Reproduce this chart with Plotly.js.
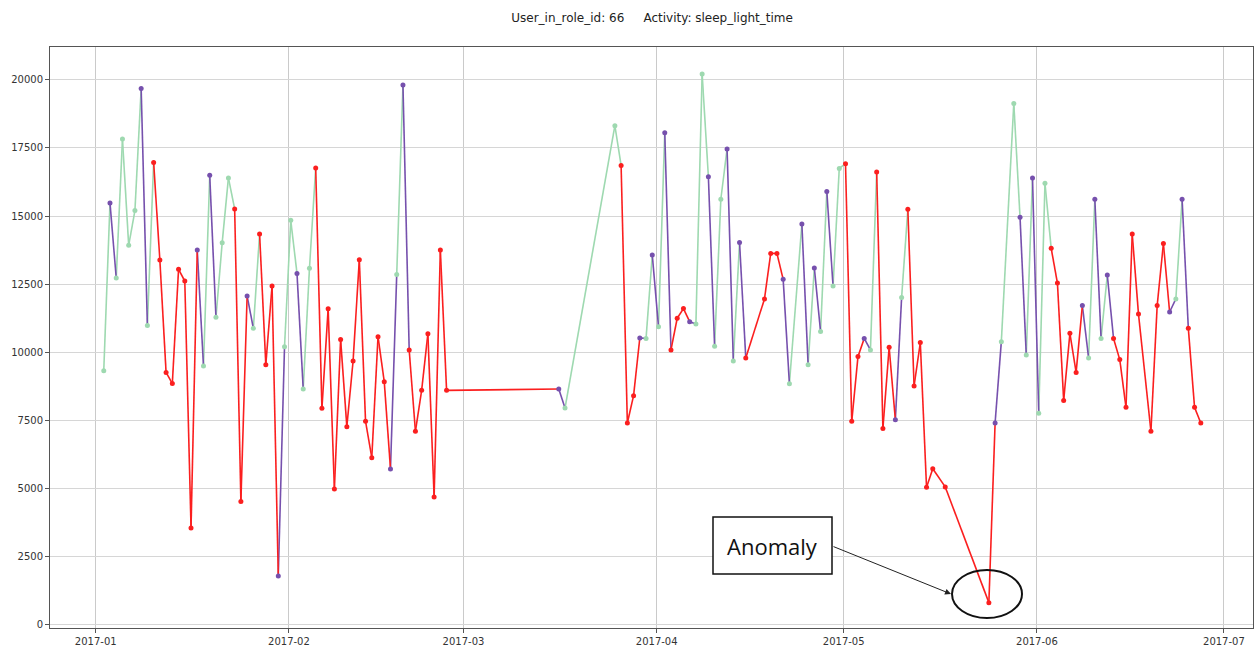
<!DOCTYPE html>
<html>
<head>
<meta charset="utf-8">
<script src="https://cdn.plot.ly/plotly-3.0.1.min.js"></script>
<style>
  html, body { margin: 0; padding: 0; background: #ffffff; }
  #chart { width: 1254px; height: 648px; }
</style>
</head>
<body>
<div id="chart"></div>
<script>
// ---- data ----
const dates = [
  '2017-01-02','2017-01-03','2017-01-04','2017-01-05','2017-01-06','2017-01-07','2017-01-08','2017-01-09',
  '2017-01-10','2017-01-11','2017-01-12','2017-01-13','2017-01-14','2017-01-15','2017-01-16','2017-01-17',
  '2017-01-18','2017-01-19','2017-01-20','2017-01-21','2017-01-22','2017-01-23','2017-01-24','2017-01-25',
  '2017-01-26','2017-01-27','2017-01-28','2017-01-29','2017-01-30','2017-01-31','2017-02-01','2017-02-02',
  '2017-02-03','2017-02-04','2017-02-05','2017-02-06','2017-02-07','2017-02-08','2017-02-09','2017-02-10',
  '2017-02-11','2017-02-12','2017-02-13','2017-02-14','2017-02-15','2017-02-16','2017-02-17','2017-02-18',
  '2017-02-19','2017-02-20','2017-02-21','2017-02-22','2017-02-23','2017-02-24','2017-02-25','2017-02-26',
  '2017-03-16','2017-03-17','2017-03-25','2017-03-26','2017-03-27','2017-03-28','2017-03-29','2017-03-30',
  '2017-03-31','2017-04-01','2017-04-02','2017-04-03','2017-04-04','2017-04-05','2017-04-06','2017-04-07',
  '2017-04-08','2017-04-09','2017-04-10','2017-04-11','2017-04-12','2017-04-13','2017-04-14','2017-04-15',
  '2017-04-18','2017-04-19','2017-04-20','2017-04-21','2017-04-22','2017-04-24','2017-04-25','2017-04-26',
  '2017-04-27','2017-04-28','2017-04-29','2017-04-30','2017-05-01','2017-05-02','2017-05-03','2017-05-04',
  '2017-05-05','2017-05-06','2017-05-07','2017-05-08','2017-05-09','2017-05-10','2017-05-11','2017-05-12',
  '2017-05-13','2017-05-14','2017-05-15','2017-05-17','2017-05-24','2017-05-25','2017-05-26','2017-05-28',
  '2017-05-29','2017-05-30','2017-05-31','2017-06-01','2017-06-02','2017-06-03','2017-06-04','2017-06-05',
  '2017-06-06','2017-06-07','2017-06-08','2017-06-09','2017-06-10','2017-06-11','2017-06-12','2017-06-13',
  '2017-06-14','2017-06-15','2017-06-16','2017-06-17','2017-06-19','2017-06-20','2017-06-21','2017-06-22',
  '2017-06-23','2017-06-24','2017-06-25','2017-06-26','2017-06-27'
];
const sleepLightTime = [
  9310,15480,12720,17830,13920,15200,19690,10970,
  16970,13380,9250,8840,13040,12610,3530,13750,
  9485,16495,11275,14020,16400,15260,4500,12060,
  10870,14340,9535,12430,1765,10195,14840,12890,
  8640,13075,16765,7930,11590,4960,10455,7255,
  9670,13395,7450,6115,10565,8910,5700,12845,
  19815,10075,7085,8590,10675,4670,13750,8590,
  8640,7940,18320,16860,7390,8395,10515,10500,
  13565,10930,18065,10075,11240,11595,11115,11030,
  20220,16445,10210,15615,17465,9670,14030,9780,
  11950,13625,13625,12670,8835,14705,9535,13090,
  10750,15905,12425,16750,16925,7450,9830,10500,
  10075,16620,7190,10170,7510,12000,15245,8750,
  10345,5025,5710,5040,785,7390,10380,19140,
  14950,9890,16400,7745,16200,13810,12535,8220,
  10685,9250,11705,9780,15615,10500,12830,10500,
  9720,7965,14340,11400,7085,11705,13985,11470,
  11950,15615,10870,7965,7390
];
// cluster label of each point: 0 = green, 1 = purple, 2 = red
const cluster = [
  0,1,0,0,0,0,1,0,
  2,2,2,2,2,2,2,1,
  0,1,0,0,0,2,2,1,
  0,2,2,2,1,0,0,1,
  0,0,2,2,2,2,2,2,
  2,2,2,2,2,2,1,0,
  1,2,2,2,2,2,2,2,
  1,0,0,2,2,2,1,0,
  1,0,1,2,2,2,1,0,
  0,1,0,0,1,0,1,2,
  2,2,2,1,0,1,0,1,
  0,1,0,0,2,2,2,1,
  0,2,2,2,1,0,2,2,
  2,2,2,2,2,1,0,0,
  1,0,1,0,0,2,2,2,
  2,2,1,0,1,0,1,2,
  2,2,2,2,2,2,2,1,
  0,1,2,2,2
];
const clusterColors = ['#9ed9b0', '#7650ad', '#fb1f1f'];
const titleText = 'User_in_role_id: 66\u00a0\u00a0\u00a0\u00a0\u00a0Activity: sleep_light_time';
const annotationText = 'Anomaly';

// ---- build traces ----
const xs = dates.map(d => d + ' 07:00');
const traces = [];
// line segments, coloured by the cluster of the starting point
for (let c = 0; c < 3; c++) {
  const lx = [], ly = [];
  for (let i = 0; i < xs.length - 1; i++) {
    if (cluster[i] === c) {
      lx.push(xs[i], xs[i + 1], null);
      ly.push(sleepLightTime[i], sleepLightTime[i + 1], null);
    }
  }
  traces.push({
    x: lx, y: ly, type: 'scatter', mode: 'lines',
    line: { color: clusterColors[c], width: 1.6 },
    connectgaps: false, hoverinfo: 'skip', showlegend: false
  });
}
// point markers
for (let c = 0; c < 3; c++) {
  const px = [], py = [];
  for (let i = 0; i < xs.length; i++) {
    if (cluster[i] === c) { px.push(xs[i]); py.push(sleepLightTime[i]); }
  }
  traces.push({
    x: px, y: py, type: 'scatter', mode: 'markers',
    marker: { color: clusterColors[c], size: 5 },
    showlegend: false
  });
}

// ---- geometry helpers (plot area in pixels) ----
const L = 50, R = 1253, T = 47, B = 628;
const px2x = p => (p - L) / (R - L);
const px2y = p => (B - p) / (B - T);

const layout = {
  width: 1254, height: 648,
  margin: { l: L, r: 1254 - R, t: T, b: 648 - B, pad: 0 },
  paper_bgcolor: '#ffffff', plot_bgcolor: '#ffffff',
  showlegend: false,
  title: {
    text: titleText,
    font: { family: 'DejaVu Sans', size: 12, color: '#222222' },
    x: 0.52, xanchor: 'center',
    y: 1 - 18 / 648, yref: 'container', yanchor: 'middle'
  },
  xaxis: {
    type: 'date',
    range: ['2016-12-24 16:00', '2017-07-05 16:00'],
    tick0: '2017-01-01', dtick: 'M1', tickformat: '%Y-%m',
    showgrid: true, gridcolor: '#cacaca', gridwidth: 1,
    showline: true, linecolor: '#555555', linewidth: 1, mirror: true,
    ticks: 'outside', ticklen: 4, tickcolor: '#555555',
    tickfont: { family: 'DejaVu Sans', size: 10, color: '#333333' },
    zeroline: false
  },
  yaxis: {
    range: [-147, 21213],
    tick0: 0, dtick: 2500, tickformat: 'd',
    showgrid: true, gridcolor: '#d6d6d6', gridwidth: 1,
    showline: true, linecolor: '#555555', linewidth: 1, mirror: true,
    ticks: 'outside', ticklen: 4, tickcolor: '#555555',
    tickfont: { family: 'DejaVu Sans', size: 10, color: '#333333' },
    zeroline: false
  },
  shapes: [
    {
      type: 'rect', xref: 'paper', yref: 'paper',
      x0: px2x(713), x1: px2x(832), y0: px2y(574), y1: px2y(517),
      line: { color: '#111111', width: 1.5 }, fillcolor: '#ffffff', layer: 'above'
    },
    {
      type: 'circle', xref: 'paper', yref: 'paper',
      x0: px2x(952), x1: px2x(1022), y0: px2y(618), y1: px2y(570),
      line: { color: '#111111', width: 2 }, layer: 'above'
    }
  ],
  annotations: [
    {
      xref: 'paper', yref: 'paper',
      x: px2x(772.5), y: px2y(545.5), xanchor: 'center', yanchor: 'middle',
      text: annotationText, showarrow: false,
      font: { family: 'Open Sans', size: 22, color: '#111111' }
    },
    {
      xref: 'paper', yref: 'paper',
      x: px2x(951), y: px2y(594),
      axref: 'pixel', ayref: 'pixel', ax: 832 - 951, ay: 546 - 594,
      text: '', showarrow: true,
      arrowhead: 2, arrowsize: 1.2, arrowwidth: 1, arrowcolor: '#222222',
      standoff: 0, startstandoff: 0
    }
  ]
};

Plotly.newPlot('chart', traces, layout, { displayModeBar: false, staticPlot: true });
</script>
</body>
</html>
